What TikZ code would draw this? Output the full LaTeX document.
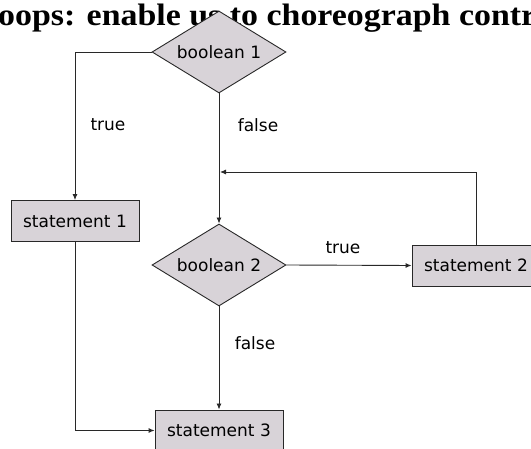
\documentclass[tikz,border=0pt]{standalone}
\usepackage{fontspec}
\setmainfont{DejaVu Sans}
\newfontfamily\titlefont{Liberation Serif}
\usetikzlibrary{shapes.geometric,arrows.meta}
\definecolor{boxfill}{RGB}{216,211,216}
\definecolor{lineclr}{RGB}{40,40,40}
\begin{document}
\begin{tikzpicture}[x=1pt,y=-1pt,
  every node/.style={font=\fontsize{17}{20}\selectfont},
  stmt/.style={draw=lineclr, fill=boxfill, line width=0.9pt, minimum width=128pt, minimum height=41pt, inner sep=0pt},
  dec/.style={diamond, aspect=1.63, draw=lineclr, fill=boxfill, line width=0.9pt, minimum width=134pt, minimum height=82pt, inner sep=0pt},
  conn/.style={draw=lineclr, line width=0.9pt},
  arr/.style={conn, -{Latex[length=6pt,width=5pt]}},
  lbl/.style={inner sep=0pt}]
\useasboundingbox (0,0) rectangle (531,449);
\clip (0,0) rectangle (531,449);
\node[anchor=base west, inner sep=0pt] (title) at (-2,26) {\resizebox{538pt}{\height}{\titlefont\bfseries\fontsize{31}{36}\selectfont \llap{L}oops: enable us to choreograph contr\rlap{ol flow}}};
\node[dec] (b1) at (219,52) {boolean 1};
\node[stmt] (s1) at (75,221) {statement 1};
\node[dec] (b2) at (219,265) {boolean 2};
\node[stmt] (s2) at (476,265.5) {statement 2};
\node[stmt] (s3) at (219,430.5) {statement 3};
\coordinate (j) at (220,172);
\node[lbl] (t1) at (108,125) {true};
\node[lbl] (f1) at (258,125) {false};
\node[lbl] (t2) at (343,248) {true};
\node[lbl] (f2) at (255,343) {false};
\draw[arr] (b1.west) -| (s1.north);
\draw[arr] (b1.south) -- (b2.north);
\draw[arr] (b2.east) -- (s2.west);
\draw[arr] (s2.north) |- (j);
\draw[arr] (b2.south) -- (s3.north);
\draw[arr] (s1.south) |- (s3.west);
\end{tikzpicture}
\end{document}
